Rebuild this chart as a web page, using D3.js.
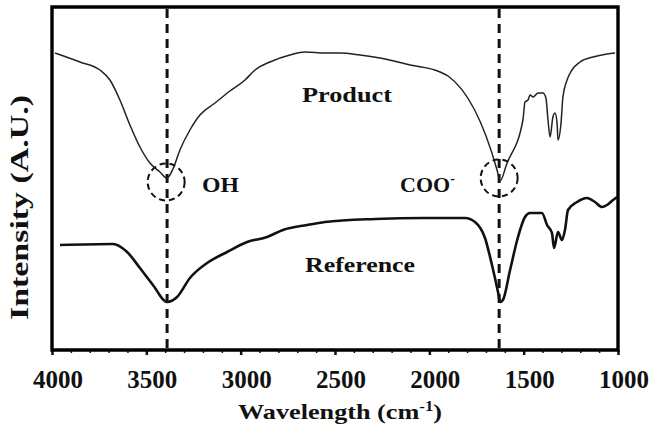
<!DOCTYPE html>
<html lang="en">
<head>
  <meta charset="utf-8">
  <script src="https://d3js.org/d3.v7.min.js"></script>
  <style>
    body { margin: 0; background: #fff; }
    text { font-family: "Liberation Serif", "Times New Roman", serif; font-weight: bold; fill: #111; }
  </style>
</head>
<body>
<script>
  var width = 650,
      height = 429;

  // spectra (wavenumber in cm-1, intensity in A.U.)
  var productWave = [3984, 3852, 3746, 3693, 3640, 3587, 3534, 3481, 3428, 3390, 3359, 3322, 3269, 3216, 3136, 3057,
    2977, 2924, 2845, 2739, 2659, 2553, 2473, 2367, 2261, 2102, 1943, 1901, 1641, 1625, 1590, 1504, 1493, 1477,
    1466, 1450, 1424, 1398, 1382, 1371, 1360, 1345, 1334, 1323, 1318, 1302, 1292, 1270, 1244, 1201, 1132, 1058, 1016];
  var productInt = [297, 288, 280, 270, 250, 225, 203, 187, 178, 172, 181, 200, 220, 235, 247, 259,
    270, 280, 288, 295, 298, 297, 297, 295, 292, 285, 278, 274, 180, 169, 186, 230, 248, 250,
    255, 253, 257, 257, 252, 230, 213, 233, 237, 227, 210, 227, 253, 270, 280, 288, 293, 296, 297];

  var refWave = [3958, 3677, 3602, 3534, 3465, 3390, 3337, 3269, 3178, 3072, 2966, 2860, 2776, 2648, 2553, 2288,
    2023, 1811, 1758, 1705, 1668, 1636, 1625, 1610, 1572, 1530, 1493, 1466, 1403, 1376, 1350, 1339, 1318, 1297,
    1281, 1265, 1217, 1164, 1122, 1085, 1058, 1026, 1005];
  var refInt = [105, 106, 98, 82, 65, 48, 53, 72, 87, 98, 108, 113, 120, 125, 128, 131,
    132, 132, 128, 112, 85, 58, 48, 50, 80, 113, 133, 137, 137, 125, 117, 102, 118, 110,
    120, 140, 148, 152, 148, 143, 145, 150, 153];

  var xTicks = [4000, 3500, 3000, 2500, 2000, 1500, 1000];
  var bandWave = [3390, 1630];          // dashed marker lines
  var circleWave = [3395, 1630];        // dashed circles on the product curve
  var circleInt = [168, 172];

  var svg = d3.select('body')
    .append('svg')
    .attr('width', width)
    .attr('height', height);

  var x = d3.scaleLinear().domain([4000, 1000]).range([52, 618]);
  var y = d3.scaleLinear().domain([0, 343]).range([350, 7]);

  var line = d3.line()
    .x(function(d) { return x(d[0]); })
    .y(function(d) { return y(d[1]); })
    .curve(d3.curveMonotoneX);

  var product = d3.zip(productWave, productInt);
  var reference = d3.zip(refWave, refInt);

  // dashed marker lines
  svg.selectAll('.band')
    .data(bandWave)
    .join('line')
    .attr('x1', function(d) { return x(d); })
    .attr('x2', function(d) { return x(d); })
    .attr('y1', 9)
    .attr('y2', 349)
    .attr('stroke', '#111')
    .attr('stroke-width', 3)
    .attr('stroke-dasharray', '9,6');

  svg.append('path')
    .datum(product)
    .attr('d', line)
    .attr('fill', 'none')
    .attr('stroke', '#222')
    .attr('stroke-width', 1.5);

  svg.append('path')
    .datum(reference)
    .attr('d', line)
    .attr('fill', 'none')
    .attr('stroke', '#111')
    .attr('stroke-width', 2.6);

  svg.selectAll('.ring')
    .data(d3.zip(circleWave, circleInt))
    .join('circle')
    .attr('cx', function(d) { return x(d[0]); })
    .attr('cy', function(d) { return y(d[1]); })
    .attr('r', 18.5)
    .attr('fill', 'none')
    .attr('stroke', '#111')
    .attr('stroke-width', 2)
    .attr('stroke-dasharray', '6,4');

  // bottom axis, ticks outward
  var xAxis = d3.axisBottom(x)
    .tickValues(xTicks)
    .tickSize(5)
    .tickFormat('');
  var gx = svg.append('g').attr('transform', 'translate(0,350)').call(xAxis);
  gx.select('.domain').remove();
  gx.selectAll('line').attr('stroke', '#111').attr('stroke-width', 2.5);

  var minor = d3.axisBottom(x)
    .tickValues(d3.range(3900, 1000, -100).filter(function(v) { return v % 500 != 0; }))
    .tickSize(3)
    .tickFormat('');
  var gm = svg.append('g').attr('transform', 'translate(0,350)').call(minor);
  gm.select('.domain').remove();
  gm.selectAll('line').attr('stroke', '#111').attr('stroke-width', 1.5);

  svg.selectAll('.xlab')
    .data(xTicks)
    .join('text')
    .attr('x', function(d) { return x(d) + 6; })
    .attr('y', 388)
    .attr('text-anchor', 'middle')
    .style('font-size', '25px')
    .text(function(d) { return d; });

  // frame drawn from the scale ends
  var x0 = x(4000), x1 = x(1000), y0 = y(343), y1 = y(0);
  svg.append('path')
    .attr('d', 'M' + x0 + ',' + y0 + 'H' + x1 + 'V' + y1 + 'H' + x0 + 'Z')
    .attr('fill', 'none')
    .attr('stroke', '#000')
    .attr('stroke-width', 3.4)
    .attr('stroke-linejoin', 'miter');

  // labels
  var xt = svg.append('text')
    .attr('x', 238).attr('y', 419)
    .attr('textLength', 204).attr('lengthAdjust', 'spacingAndGlyphs')
    .style('font-size', '22px');
  xt.append('tspan').text('Wavelength (cm');
  xt.append('tspan').attr('dy', -8).style('font-size', '14px').text('-1');
  xt.append('tspan').attr('dy', 8).text(')');

  svg.append('text')
    .attr('transform', 'translate(28,320) rotate(-90)')
    .attr('textLength', 225).attr('lengthAdjust', 'spacingAndGlyphs')
    .style('font-size', '25px')
    .text('Intensity (A.U.)');

  svg.append('text')
    .attr('x', 302).attr('y', 102)
    .attr('textLength', 90).attr('lengthAdjust', 'spacingAndGlyphs')
    .style('font-size', '22px')
    .text('Product');

  svg.append('text')
    .attr('x', 305).attr('y', 272)
    .attr('textLength', 110).attr('lengthAdjust', 'spacingAndGlyphs')
    .style('font-size', '22px')
    .text('Reference');

  svg.append('text')
    .attr('x', 202).attr('y', 192)
    .attr('textLength', 37).attr('lengthAdjust', 'spacingAndGlyphs')
    .style('font-size', '22px')
    .text('OH');

  var coo = svg.append('text')
    .attr('x', 400).attr('y', 192)
    .style('font-size', '22px');
  coo.append('tspan').text('COO');
  coo.append('tspan').attr('dy', -9).style('font-size', '14px').text('-');
</script>
</body>
</html>
